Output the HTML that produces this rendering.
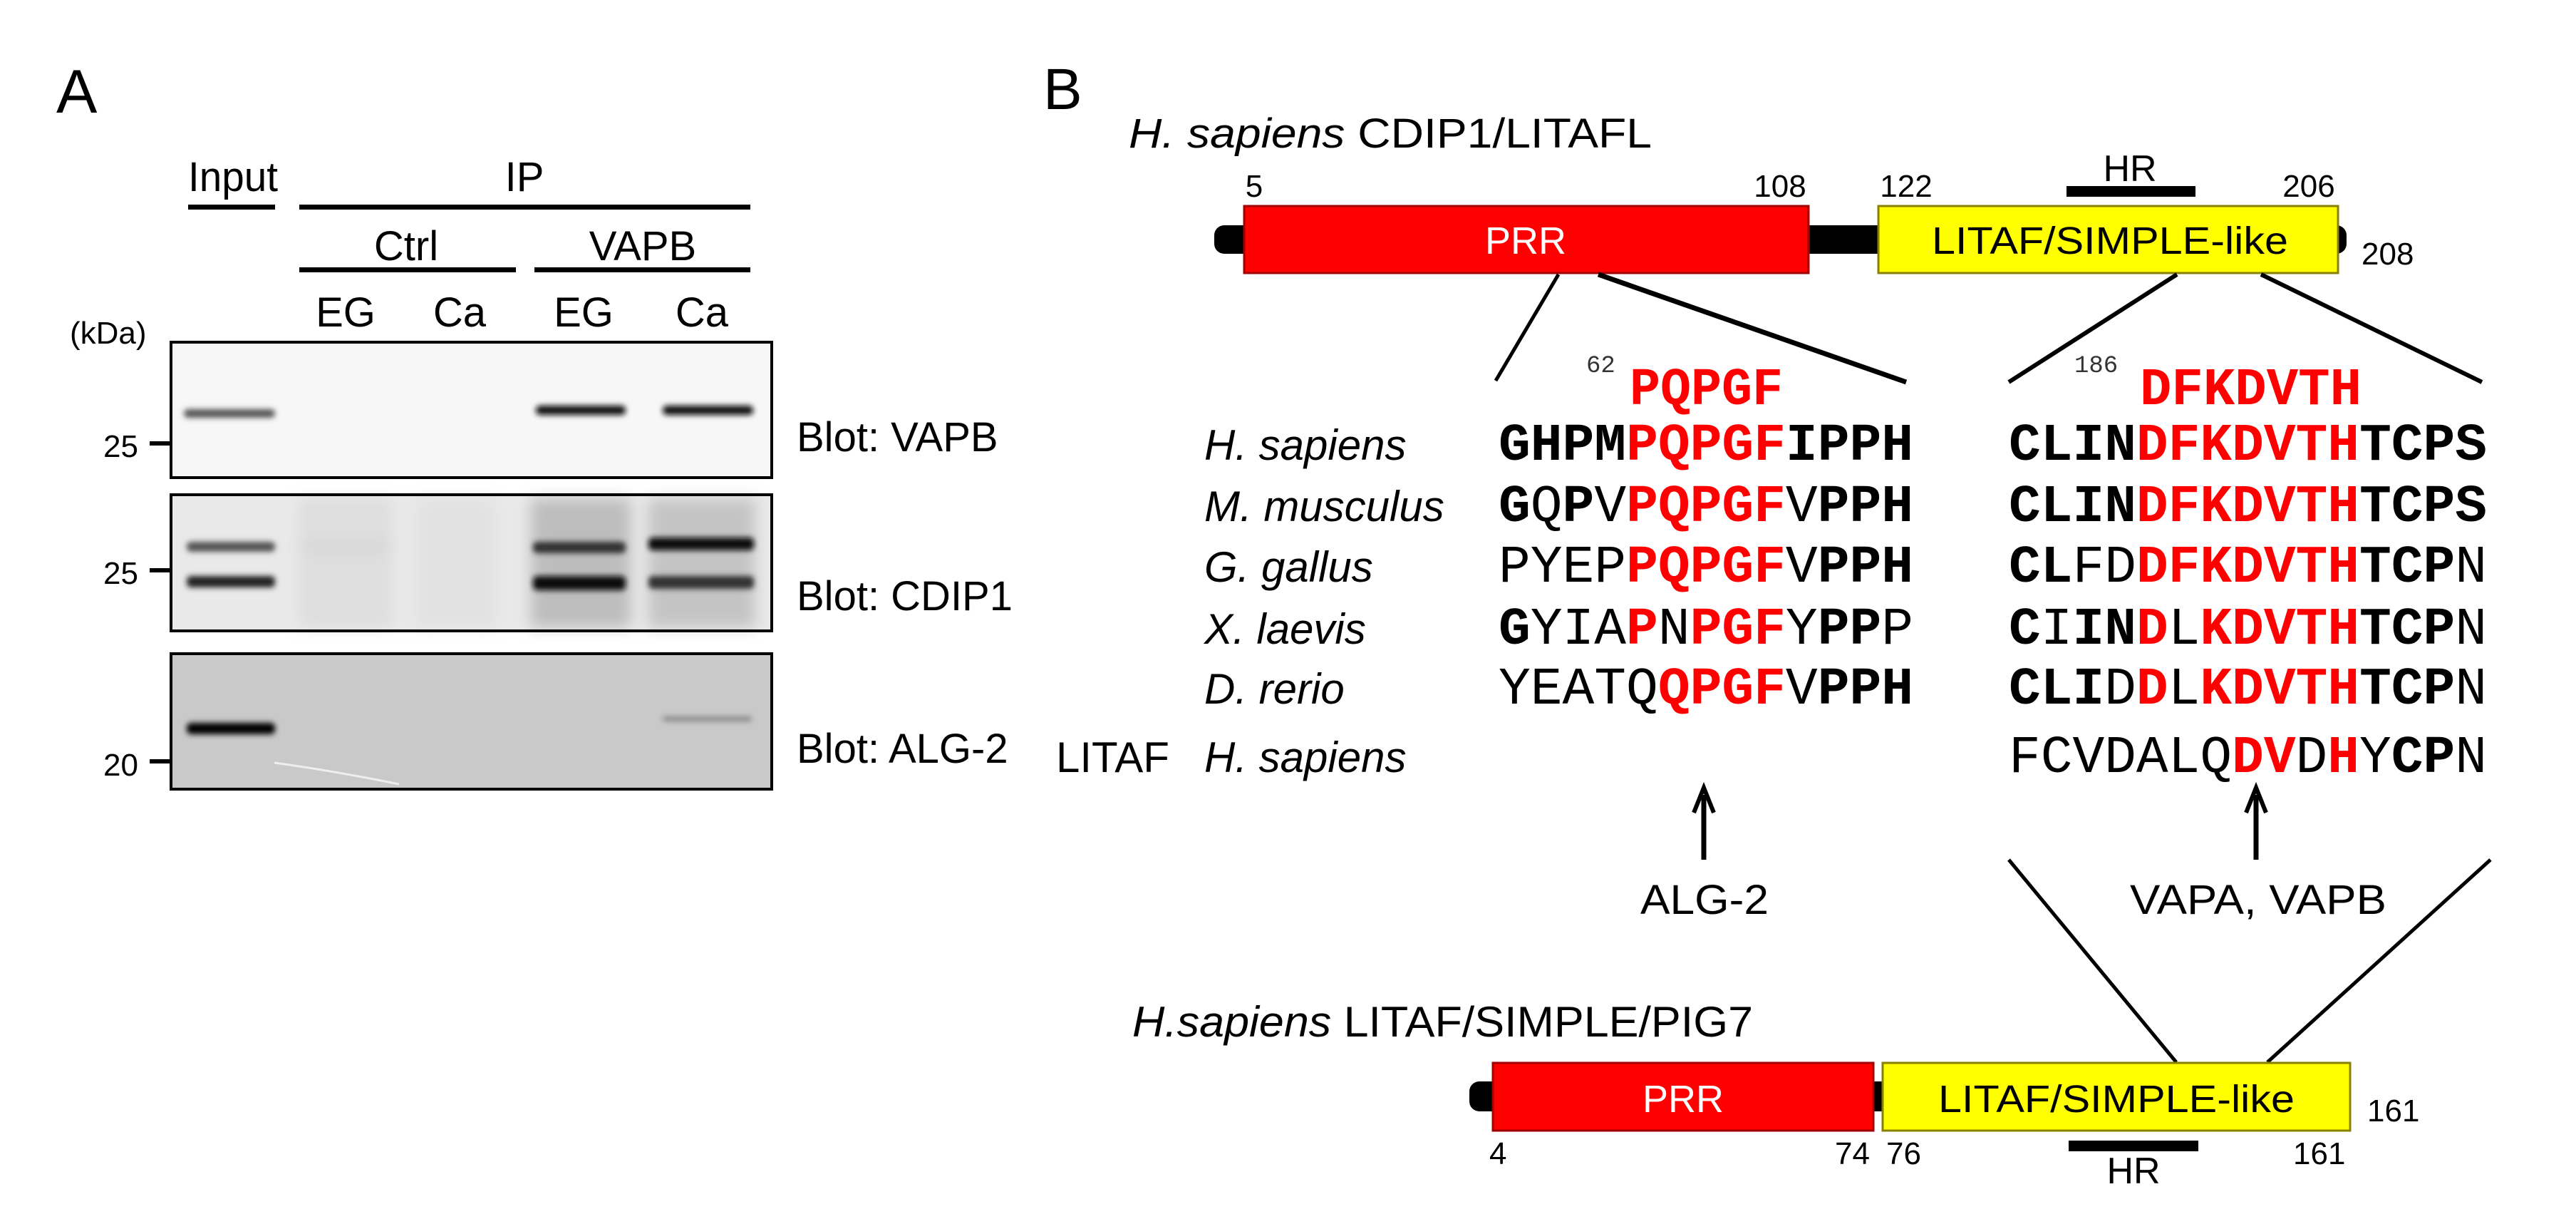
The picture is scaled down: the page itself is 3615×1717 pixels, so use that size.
<!DOCTYPE html>
<html><head><meta charset="utf-8"><style>html,body{margin:0;padding:0;background:#fff}svg{display:block}</style></head>
<body>
<svg width="3615" height="1717" viewBox="0 0 3615 1717" xmlns="http://www.w3.org/2000/svg" font-family="Liberation Sans, Arial, sans-serif">
<defs>
<filter id="b1" x="-20%" y="-200%" width="140%" height="500%"><feGaussianBlur stdDeviation="4"/></filter>
<filter id="b2" x="-20%" y="-200%" width="140%" height="500%"><feGaussianBlur stdDeviation="10"/></filter>
</defs>
<rect width="3615" height="1717" fill="#fff"/>
<!-- Panel A -->
<text x="79" y="158" font-size="86">A</text>
<text x="264" y="268" font-size="58" textLength="126" lengthAdjust="spacingAndGlyphs">Input</text>
<rect x="264" y="287" width="122" height="7" fill="#000"/>
<text x="736" y="268" font-size="58" text-anchor="middle">IP</text>
<rect x="420" y="287" width="633" height="7" fill="#000"/>
<text x="570" y="365" font-size="58" text-anchor="middle">Ctrl</text>
<text x="902" y="365" font-size="58" text-anchor="middle">VAPB</text>
<rect x="420" y="375" width="304" height="7" fill="#000"/>
<rect x="750" y="375" width="303" height="7" fill="#000"/>
<g font-size="58" text-anchor="middle">
<text x="485" y="458">EG</text><text x="645" y="458">Ca</text><text x="819" y="458">EG</text><text x="985" y="458">Ca</text>
</g>
<text x="98" y="482" font-size="44">(kDa)</text>
<!-- blot 1 -->
<rect x="240" y="480" width="843" height="190" fill="#f7f7f7"/>
<g filter="url(#b1)">
<rect x="258" y="574" width="128" height="12" rx="6" fill="#555"/>
<rect x="752" y="569" width="126" height="13" rx="6" fill="#111"/>
<rect x="930" y="569" width="127" height="13" rx="6" fill="#111"/>
</g>
<rect x="240" y="480" width="843" height="190" fill="none" stroke="#000" stroke-width="4"/>
<!-- blot 2 -->
<rect x="240" y="694" width="843" height="191" fill="#e9e9e9"/>
<g filter="url(#b2)">
<rect x="420" y="700" width="130" height="180" fill="#dedede"/>
<rect x="585" y="700" width="110" height="180" fill="#e2e2e2"/>
<rect x="745" y="700" width="140" height="180" fill="#bdbdbd"/>
<rect x="910" y="700" width="150" height="180" fill="#c4c4c4"/>
<rect x="420" y="762" width="130" height="8" fill="#cfcfcf"/>
</g>
<g filter="url(#b1)">
<rect x="262" y="760" width="124" height="14" rx="6" fill="#555"/>
<rect x="262" y="808" width="124" height="16" rx="6" fill="#222"/>
<rect x="748" y="760" width="130" height="16" rx="6" fill="#333"/>
<rect x="748" y="808" width="130" height="20" rx="6" fill="#111"/>
<rect x="910" y="754" width="148" height="18" rx="6" fill="#111"/>
<rect x="910" y="808" width="148" height="18" rx="6" fill="#333"/>
</g>
<rect x="240" y="694" width="843" height="191" fill="none" stroke="#000" stroke-width="4"/>
<!-- blot 3 -->
<rect x="240" y="917" width="843" height="190" fill="#c9c9c9"/>
<g filter="url(#b1)">
<rect x="262" y="1014" width="124" height="16" rx="6" fill="#000"/>
<rect x="930" y="1005" width="125" height="7" rx="3" fill="#888"/>
</g>
<path d="M385 1070 Q460 1080 560 1100" stroke="#eee" stroke-width="3" fill="none"/>
<rect x="240" y="917" width="843" height="190" fill="none" stroke="#000" stroke-width="4"/>
<!-- markers -->
<g font-size="44">
<text x="145" y="641">25</text><text x="145" y="819">25</text><text x="145" y="1088">20</text>
</g>
<rect x="210" y="619" width="30" height="6" fill="#000"/>
<rect x="210" y="797" width="30" height="6" fill="#000"/>
<rect x="210" y="1065" width="30" height="6" fill="#000"/>
<g font-size="58">
<text x="1118" y="633">Blot: VAPB</text>
<text x="1118" y="856">Blot: CDIP1</text>
<text x="1118" y="1070">Blot: ALG-2</text>
</g>
<!-- Panel B -->
<text x="1464" y="153" font-size="82">B</text>
<text x="1584" y="207" font-size="58" textLength="734" lengthAdjust="spacingAndGlyphs"><tspan font-style="italic">H. sapiens</tspan> CDIP1/LITAFL</text>
<g font-size="44" text-anchor="middle">
<text x="1760" y="276">5</text><text x="2498" y="276">108</text><text x="2675" y="276">122</text><text x="3240" y="276">206</text>
</g>
<text x="3314" y="371" font-size="44">208</text>
<text x="2989" y="254" font-size="52" text-anchor="middle">HR</text>
<rect x="2900" y="261" width="181" height="15" fill="#000"/>
<rect x="1704" y="316" width="1589" height="40" rx="14" fill="#000"/>
<rect x="1746" y="289" width="792" height="94" fill="#f00" stroke="#a00000" stroke-width="3"/>
<rect x="2636" y="289" width="645" height="94" fill="#ff0" stroke="#8a8000" stroke-width="3"/>
<text x="2141" y="356" font-size="54" fill="#fff" text-anchor="middle">PRR</text>
<text x="2961" y="356" font-size="54" text-anchor="middle" textLength="500" lengthAdjust="spacingAndGlyphs">LITAF/SIMPLE-like</text>
<g stroke="#000" stroke-width="5">
<line x1="2187" y1="385" x2="2099" y2="534"/>
<line x1="2243" y1="385" x2="2675" y2="536" stroke-width="7"/>
<line x1="3055" y1="385" x2="2819" y2="536" stroke-width="6"/>
<line x1="3173" y1="385" x2="3483" y2="536" stroke-width="6"/>
<line x1="2819" y1="1206" x2="3054" y2="1490"/>
<line x1="3495" y1="1206" x2="3182" y2="1490"/>
</g>
<g font-family="Liberation Mono, monospace">
<text x="2226" y="522" font-size="34" fill="#333">62</text>
<text x="2287" y="567" font-size="74" font-weight="bold" fill="#f00" textLength="215" lengthAdjust="spacingAndGlyphs">PQPGF</text>
<text x="2911" y="522" font-size="34" fill="#333">186</text>
<text x="3003" y="567" font-size="74" font-weight="bold" fill="#f00" textLength="311" lengthAdjust="spacingAndGlyphs">DFKDVTH</text>
</g>
<g font-size="60" font-style="italic">
<text x="1690" y="645">H. sapiens</text>
<text x="1690" y="731">M. musculus</text>
<text x="1690" y="816">G. gallus</text>
<text x="1690" y="903">X. laevis</text>
<text x="1690" y="987">D. rerio</text>
<text x="1690" y="1083">H. sapiens</text>
</g>
<text x="1482" y="1083" font-size="60">LITAF</text>
<g font-family="Liberation Mono, monospace" font-size="74">
<text x="2103" y="645" textLength="582" lengthAdjust="spacingAndGlyphs"><tspan font-weight="bold">GHPM</tspan><tspan font-weight="bold" fill="#f00">PQPGF</tspan><tspan font-weight="bold">IPPH</tspan></text>
<text x="2103" y="731" textLength="582" lengthAdjust="spacingAndGlyphs"><tspan font-weight="bold">G</tspan>Q<tspan font-weight="bold">P</tspan>V<tspan font-weight="bold" fill="#f00">PQPGF</tspan>V<tspan font-weight="bold">PPH</tspan></text>
<text x="2103" y="816" textLength="582" lengthAdjust="spacingAndGlyphs">PYEP<tspan font-weight="bold" fill="#f00">PQPGF</tspan>V<tspan font-weight="bold">PPH</tspan></text>
<text x="2103" y="903" textLength="582" lengthAdjust="spacingAndGlyphs"><tspan font-weight="bold">G</tspan>YIA<tspan font-weight="bold" fill="#f00">P</tspan>N<tspan font-weight="bold" fill="#f00">PGF</tspan>Y<tspan font-weight="bold">PP</tspan>P</text>
<text x="2103" y="987" textLength="582" lengthAdjust="spacingAndGlyphs">YEATQ<tspan font-weight="bold" fill="#f00">QPGF</tspan>V<tspan font-weight="bold">PPH</tspan></text>
<text x="2819" y="645" textLength="671" lengthAdjust="spacingAndGlyphs"><tspan font-weight="bold">CLIN</tspan><tspan font-weight="bold" fill="#f00">DFKDVTH</tspan><tspan font-weight="bold">TCPS</tspan></text>
<text x="2819" y="731" textLength="671" lengthAdjust="spacingAndGlyphs"><tspan font-weight="bold">CLIN</tspan><tspan font-weight="bold" fill="#f00">DFKDVTH</tspan><tspan font-weight="bold">TCPS</tspan></text>
<text x="2819" y="816" textLength="671" lengthAdjust="spacingAndGlyphs"><tspan font-weight="bold">CL</tspan>FD<tspan font-weight="bold" fill="#f00">DFKDVTH</tspan><tspan font-weight="bold">TCP</tspan>N</text>
<text x="2819" y="903" textLength="671" lengthAdjust="spacingAndGlyphs"><tspan font-weight="bold">C</tspan>I<tspan font-weight="bold">IN</tspan><tspan font-weight="bold" fill="#f00">D</tspan>L<tspan font-weight="bold" fill="#f00">KDVTH</tspan><tspan font-weight="bold">TCP</tspan>N</text>
<text x="2819" y="987" textLength="671" lengthAdjust="spacingAndGlyphs"><tspan font-weight="bold">CLI</tspan>D<tspan font-weight="bold" fill="#f00">D</tspan>L<tspan font-weight="bold" fill="#f00">KDVTH</tspan><tspan font-weight="bold">TCP</tspan>N</text>
<text x="2819" y="1083" textLength="671" lengthAdjust="spacingAndGlyphs">FCVDALQ<tspan font-weight="bold" fill="#f00">DV</tspan>D<tspan font-weight="bold" fill="#f00">H</tspan>Y<tspan font-weight="bold">CP</tspan>N</text>
</g>
<!-- arrows -->
<g stroke="#000" stroke-width="7" fill="none">
<line x1="2391" y1="1115" x2="2391" y2="1206"/>
<polyline points="2377,1140 2391,1105 2405,1140" stroke-width="6"/>
<line x1="3166" y1="1115" x2="3166" y2="1206"/>
<polyline points="3152,1140 3166,1105 3180,1140" stroke-width="6"/>
</g>
<text x="2392" y="1282" font-size="58" text-anchor="middle" textLength="180" lengthAdjust="spacingAndGlyphs">ALG-2</text>
<text x="3169" y="1282" font-size="58" text-anchor="middle" textLength="360" lengthAdjust="spacingAndGlyphs">VAPA, VAPB</text>
<!-- bottom protein -->
<text x="1589" y="1454" font-size="60" textLength="871" lengthAdjust="spacingAndGlyphs"><tspan font-style="italic">H.sapiens</tspan> LITAF/SIMPLE/PIG7</text>
<rect x="2062" y="1517" width="600" height="42" rx="14" fill="#000"/>
<rect x="2095" y="1491" width="534" height="95" fill="#f00" stroke="#a00000" stroke-width="3"/>
<rect x="2642" y="1491" width="656" height="95" fill="#ff0" stroke="#8a8000" stroke-width="3"/>
<text x="2362" y="1560" font-size="54" fill="#fff" text-anchor="middle">PRR</text>
<text x="2970" y="1560" font-size="54" text-anchor="middle" textLength="500" lengthAdjust="spacingAndGlyphs">LITAF/SIMPLE-like</text>
<text x="3322" y="1573" font-size="44">161</text>
<g font-size="44">
<text x="2090" y="1633">4</text><text x="2575" y="1633">74</text><text x="2647" y="1633">76</text><text x="3218" y="1633">161</text>
</g>
<rect x="2903" y="1600" width="182" height="15" fill="#000"/>
<text x="2994" y="1660" font-size="52" text-anchor="middle">HR</text>
</svg>
</body></html>
